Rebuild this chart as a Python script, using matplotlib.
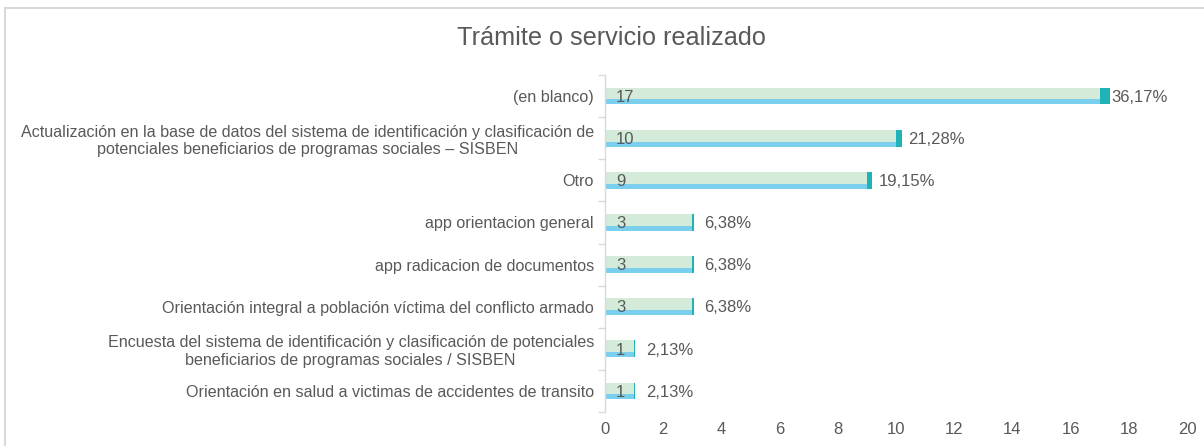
import matplotlib
matplotlib.use("Agg")
import matplotlib.pyplot as plt
from matplotlib.patches import Rectangle

plt.rcParams['font.family'] = ['Liberation Sans', 'DejaVu Sans']

categories = [
    "(en blanco)",
    "Actualización en la base de datos del sistema de identificación y clasificación de\npotenciales beneficiarios de programas sociales – SISBEN",
    "Otro",
    "app orientacion general",
    "app radicacion de documentos",
    "Orientación integral a población víctima del conflicto armado",
    "Encuesta del sistema de identificación y clasificación de potenciales\nbeneficiarios de programas sociales / SISBEN",
    "Orientación en salud a victimas de accidentes de transito",
]
counts = [17, 10, 9, 3, 3, 3, 1, 1]
percents = [36.17, 21.28, 19.15, 6.38, 6.38, 6.38, 2.13, 2.13]
x_ticks = [0, 2, 4, 6, 8, 10, 12, 14, 16, 18, 20]

GREEN = "#d5ebd9"
BLUE = "#7acfee"
TEAL = "#1fb3b8"
TEXT = "#595959"

fig = plt.figure(figsize=(12.04, 4.46), dpi=100)
fig.patches.append(Rectangle((5 / 1204, -0.1), 1.2, (1 - 8 / 446) + 0.1,
                             transform=fig.transFigure, fill=False,
                             edgecolor="#d9d9d9", linewidth=1.5))

ax = fig.add_axes([605 / 1204, 1 - 412 / 446, (1187 - 605) / 1204, (412 - 75) / 446])
n = len(categories)
ypos = list(range(n))
bar_h = 0.40
stripe_h = 0.12
for y, c, p in zip(ypos, counts, percents):
    # count bar with a blue stripe along its bottom edge
    ax.barh(y, c, height=bar_h, color=GREEN, edgecolor="none")
    ax.barh(y + bar_h / 2 - stripe_h / 2, c, height=stripe_h, color=BLUE, edgecolor="none")
    # share of total stacked at the end of the bar
    ax.barh(y, p / 100, left=c, height=bar_h, color=TEAL, edgecolor="none")
    ax.text(0.38, y + 0.03, f"{c}", va="center", ha="left", fontsize=12, color=TEXT)
    ax.annotate(f"{p:.2f}%".replace(".", ","), (c, y + 0.03), xytext=(8.5, 0),
                textcoords="offset points", va="center", ha="left",
                fontsize=12, color=TEXT)

ax.set_xlim(0, 20)
ax.set_ylim(n - 0.5, -0.5)
ax.set_xticks(x_ticks)
ax.set_xticklabels([str(t) for t in x_ticks], fontsize=12, color=TEXT)
ax.set_yticks(ypos)
ax.set_yticklabels(categories, fontsize=11.6, color=TEXT, multialignment="center")
ax.set_yticks([i - 0.5 for i in range(n + 1)], minor=True)
ax.tick_params(axis="y", which="major", length=0, pad=8)
ax.tick_params(axis="y", which="minor", length=5, color="#d9d9d9", width=1)
ax.tick_params(axis="x", length=0, pad=7)
for side in ("top", "right", "bottom"):
    ax.spines[side].set_visible(False)
ax.spines["left"].set_color("#d9d9d9")
ax.spines["left"].set_linewidth(1)

fig.text(611 / 1204, 1 - 38 / 446, "Trámite o servicio realizado", ha="center", va="center",
         fontsize=18.2, color=TEXT)

fig.savefig("out.png", dpi=100)
